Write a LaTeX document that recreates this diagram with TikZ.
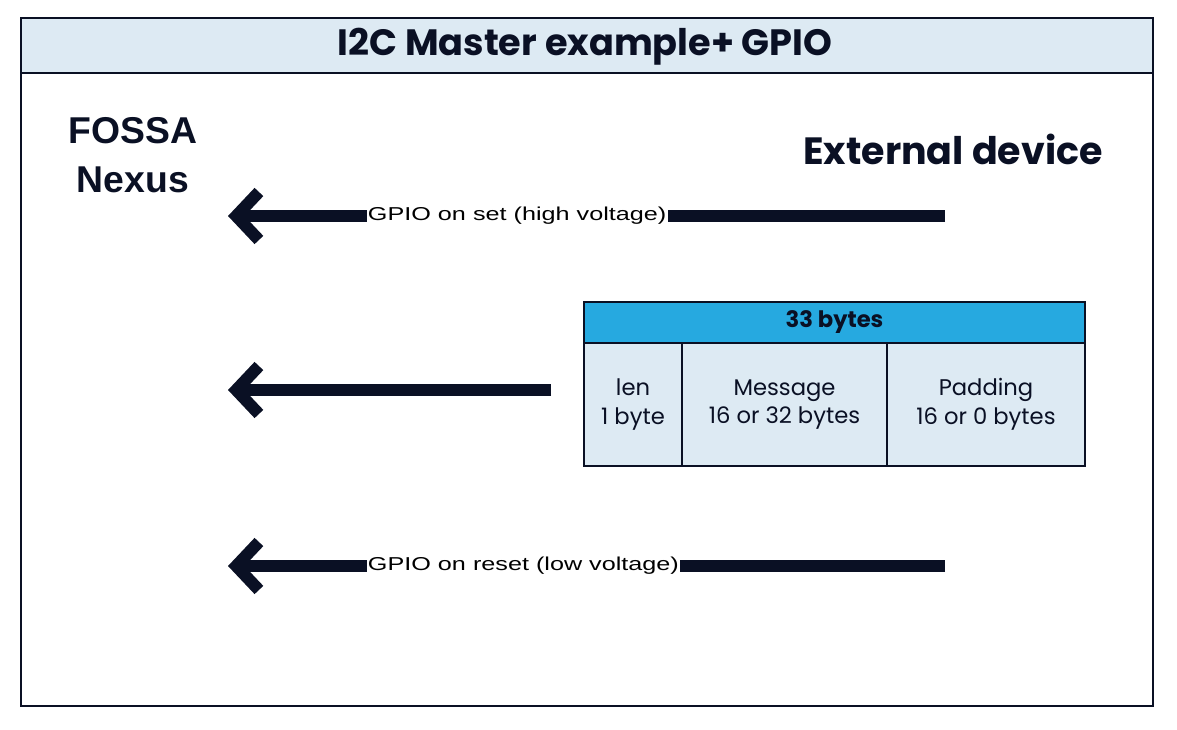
\documentclass[tikz,border=0pt]{standalone}
\usepackage{fontspec}
\setmainfont{Poppins}
\newfontfamily\arialfont{Liberation Sans}
\usetikzlibrary{arrows.meta}
\definecolor{navy}{RGB}{10,16,36}
\definecolor{paleblue}{RGB}{221,234,243}
\definecolor{headblue}{RGB}{38,169,224}

\begin{document}
\begin{tikzpicture}[x=0.75pt,y=-0.75pt]
    \tikzstyle{frame} = [draw=navy, line width=2pt]
    \tikzstyle{cell} = [draw=navy, line width=2.2pt, fill=paleblue, minimum height=92.25pt, inner sep=0pt, outer sep=0pt, align=center, text=navy, font=\fontsize{17}{21.5}\selectfont]
    \tikzstyle{head} = [draw=navy, line width=2.2pt, fill=headblue, minimum height=30.75pt, inner sep=0pt, outer sep=0pt, text=navy, font=\bfseries\fontsize{17}{18}\selectfont]
    \tikzstyle{side} = [text=navy, align=center, font=\bfseries\fontsize{28.5}{37}\selectfont]
    \tikzstyle{signal} = [draw=navy, line width=9pt, -{Straight Barb[length=17pt,width=36pt]}]
    \tikzstyle{lbl} = [fill=white, inner sep=1pt, text=black, font=\arialfont\fontsize{14}{16}\selectfont]

    \useasboundingbox (0,0) rectangle (1177,730);

    % frame and title
    \draw [frame] (21,18) rectangle (1153,706);
    \draw [frame, fill=paleblue] (21,18) rectangle (1153,73);
    \node [text=navy, font=\bfseries\fontsize{27.5}{30}\selectfont] (title) at (585,47) {I2C Master example+ GPIO};

    % sides
    \node [side, font=\arialfont\bfseries\fontsize{28}{37}\selectfont] (nexus) at (133,155) {FOSSA\\Nexus};
    \node [side] (ext) at (953,149) {External device};

    % packet
    \node [cell, minimum width=73.5pt] (len) at (633,404.5) {len\\1 byte};
    \node [cell, minimum width=153.75pt, anchor=west] (msg) at (len.east) {Message\\16 or 32 bytes};
    \node [cell, minimum width=148.5pt, anchor=west] (pad) at (msg.east) {Padding\\16 or 0 bytes};
    \node [head, minimum width=375.75pt, anchor=south west] (bytes) at (len.north west) {33 bytes};

    % signals
    \coordinate (set1) at (945,216);
    \coordinate (set2) at (228,216);
    \coordinate (dat1) at (551,390);
    \coordinate (dat2) at (228,390);
    \coordinate (rst1) at (945,566);
    \coordinate (rst2) at (228,566);
    \draw [signal] (set1) -- node [lbl, pos=0.815, anchor=west] {\scalebox{1.35}[1]{GPIO on set (high voltage)}} (set2);
    \draw [signal] (dat1) -- (dat2);
    \draw [signal] (rst1) -- node [lbl, pos=0.815, anchor=west] {\scalebox{1.35}[1]{GPIO on reset (low voltage)}} (rst2);
\end{tikzpicture}
\end{document}
